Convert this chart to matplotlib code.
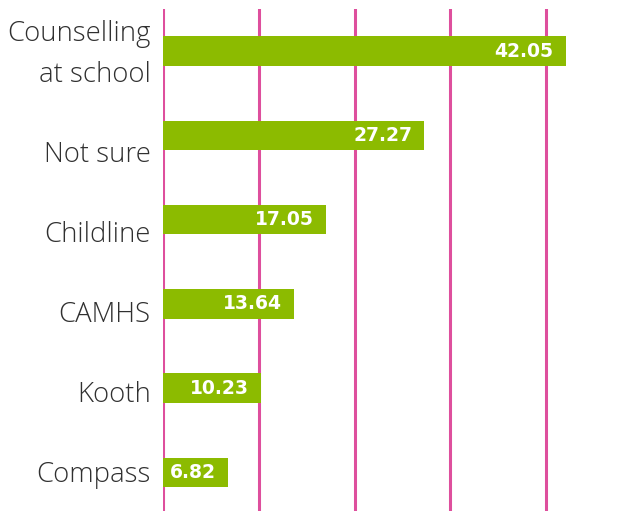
import matplotlib
matplotlib.use("Agg")
import matplotlib.pyplot as plt

categories = ["Counselling\nat school", "Not sure", "Childline", "CAMHS", "Kooth", "Compass"]
values = [42.05, 27.27, 17.05, 13.64, 10.23, 6.82]
grid_ticks = [0, 10, 20, 30, 40]

barColor = "#8cbb00"
gridColor = "#de4f9d"

fig = plt.figure(figsize=(6.38, 5.11), dpi=100)
ax = fig.add_axes([163/638, 0, 1 - 163/638, 502/511])

pos = list(range(len(categories)))
bars = ax.barh(pos, values, height=0.35, color=barColor, zorder=3)

for t in grid_ticks:
	ax.axvline(t, color=gridColor, lw=2.2, zorder=2)

# value labels inside the bar end
for b, v in zip(bars, values):
	ax.annotate("%.2f" % v, xy=(v, b.get_y() + b.get_height()/2), xytext=(-12, 0),
		textcoords="offset pixels", ha="right", va="center", color="white",
		fontsize=13.5, family="DejaVu Sans", fontweight="bold", zorder=4)

ax.set_xlim(0, 475/9.575)
ax.set_ylim(5.46, -0.5)

# category labels sit on baselines slightly tighter than the bars
label_pos = [0.362 + 0.95*i for i in pos]
ax.set_yticks(label_pos)
ax.set_yticklabels(categories, family="Open Sans", fontweight="light", fontsize=19.8,
	color="#303030", linespacing=1.58)
for lab in ax.get_yticklabels():
	lab.set_va("baseline")
ax.tick_params(axis="y", length=0, pad=9)
ax.set_xticks([])
for s in ax.spines.values():
	s.set_visible(False)

fig.savefig("out.png", dpi=100)
